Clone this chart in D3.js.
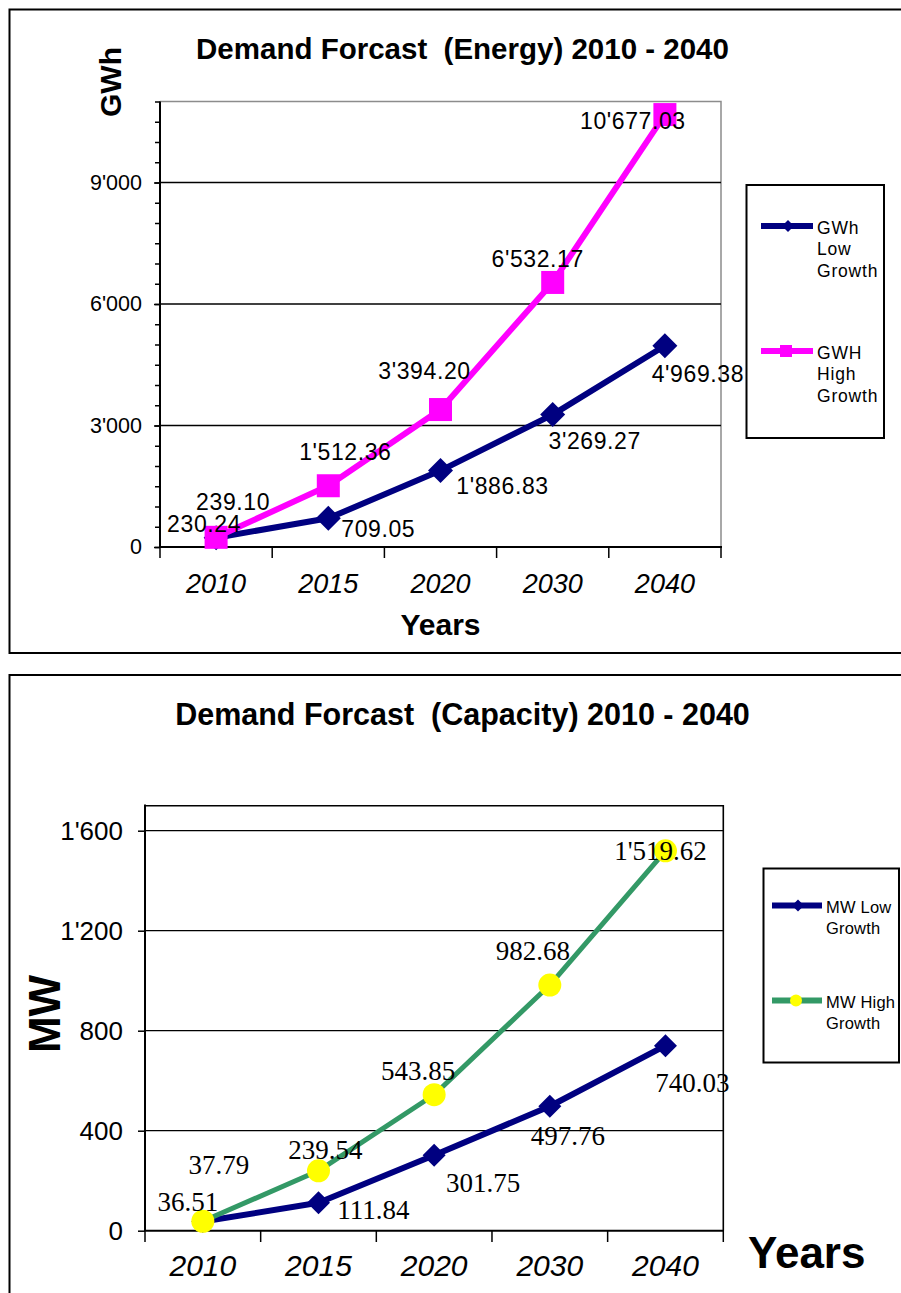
<!DOCTYPE html>
<html>
<head>
<meta charset="utf-8">
<script src="https://cdn.jsdelivr.net/npm/d3@7/dist/d3.min.js"></script>
<style>
  html, body { margin: 0; padding: 0; background: #fff; }
  svg { display: block; }
  text { font-family: Arial, "Liberation Sans", sans-serif; fill: #000; }
</style>
</head>
<body>
<svg id="chart" width="901" height="1293"></svg>
<script>
// ---- data ----
const years = ["2010", "2015", "2020", "2030", "2040"];

const energyLow  = [230.24, 709.05, 1886.83, 3269.27, 4969.38];
const energyHigh = [239.10, 1512.36, 3394.20, 6532.17, 10677.03];
const energyTicks = [0, 3000, 6000, 9000];

const capacityLow  = [36.51, 111.84, 301.75, 497.76, 740.03];
const capacityHigh = [37.79, 239.54, 543.85, 982.68, 1519.62];
const capacityTicks = [0, 400, 800, 1200, 1600];

const energyLegend = [["GWh", "Low", "Growth"], ["GWH", "High", "Growth"]];
const capacityLegend = [["MW Low", "Growth"], ["MW High", "Growth"]];

// ---- label placement (offset of each value label from its point) ----
const energyLowShift  = [[-12, -14], [50, 11], [62, 15], [42, 26], [33, 28]];
const energyHighShift = [[17, -36], [17, -34], [-16, -39], [-15, -24], [-32, 6]];
const capacityLowShift  = [[-15, -20], [55, 7], [49, 28], [18, 30], [27, 37]];
const capacityHighShift = [[16, -56], [7, -21], [-16, -24], [-17, -34], [-5, 0]];

// ---- formatting: apostrophe as thousands separator ----
const loc = d3.formatLocale({decimal: ".", thousands: "'", grouping: [3], currency: ["", ""]});
const fmtVal = loc.format(",.2f");
const fmtTick = loc.format(",.0f");

const NAVY = "#000080", PINK = "#FF00FF", GREEN = "#339966", YELLOW = "#FFFF00";

const svg = d3.select("#chart");

// ---- panel frames ----
svg.append("rect").attr("x", 9.5).attr("y", 9.5).attr("width", 900).attr("height", 643.5)
  .attr("fill", "none").attr("stroke", "#000").attr("stroke-width", 2);
svg.append("rect").attr("x", 9.5).attr("y", 675).attr("width", 900).attr("height", 700)
  .attr("fill", "none").attr("stroke", "#000").attr("stroke-width", 2);

function diamondPath(cx, cy, r) {
  return `M${cx},${cy - r}L${cx + r},${cy}L${cx},${cy + r}L${cx - r},${cy}Z`;
}

function drawValueLabels(g, xs, ys, vals, shift, font) {
  g.selectAll(null).data(vals).join("text")
    .attr("x", (d, i) => xs(years[i]) + xs.bandwidth() / 2 + shift[i][0])
    .attr("y", (d, i) => ys(d) + shift[i][1] + font.baseShift)
    .attr("text-anchor", "middle")
    .style("font-family", font.family)
    .style("font-size", font.size + "px")
    .style("letter-spacing", font.ls + "px")
    .text(d => fmtVal(d));
}

// =========================== Energy chart ===========================
{
  const g = svg.append("g");
  const x = d3.scaleBand().domain(years).range([160, 721]);
  const y = d3.scaleLinear().domain([0, 11000]).range([547, 101.5]);
  const cx = d => x(d) + x.bandwidth() / 2;

  // plot border (top + right, grey)
  g.append("path").attr("d", `M160,101.5H721V547`).attr("fill", "none")
    .attr("stroke", "#8c8c8c").attr("stroke-width", 1.5);

  // gridlines
  g.selectAll(null).data(energyTicks.filter(t => t > 0)).join("line")
    .attr("x1", 160).attr("x2", 721).attr("y1", d => y(d)).attr("y2", d => y(d))
    .attr("stroke", "#000").attr("stroke-width", 1.3);

  // minor ticks
  const minor = g.append("g").attr("transform", "translate(160,0)")
    .call(d3.axisLeft(y).tickValues(d3.range(0, 11001, 500)).tickSize(5).tickFormat(""));
  minor.select(".domain").remove();
  minor.selectAll("line").attr("stroke", "#000").attr("stroke-width", 1.5);

  // major ticks + labels
  const yAx = g.append("g").attr("transform", "translate(160,0)")
    .call(d3.axisLeft(y).tickValues(energyTicks).tickSize(6).tickPadding(12).tickFormat(fmtTick));
  yAx.select(".domain").remove();
  yAx.selectAll("line").attr("stroke", "#000").attr("stroke-width", 1.5);
  yAx.selectAll("text").style("font-size", "21.5px").style("font-family", "Arial, 'Liberation Sans', sans-serif");

  g.append("line").attr("x1", 160).attr("x2", 160).attr("y1", 101.5).attr("y2", 547)
    .attr("stroke", "#000").attr("stroke-width", 2);

  // x axis
  const xAx = g.append("g").attr("transform", "translate(0,547)")
    .call(d3.axisBottom(x).tickSize(0).tickPadding(27));
  xAx.select(".domain").remove();
  xAx.selectAll("text").style("font-size", "27px").style("font-style", "italic")
    .style("font-family", "Arial, 'Liberation Sans', sans-serif");
  const bounds = [x.range()[0]].concat(years.map(d => x(d) + x.bandwidth()));
  g.selectAll(null).data(bounds).join("line")
    .attr("x1", d => d).attr("x2", d => d).attr("y1", 547).attr("y2", 558)
    .attr("stroke", "#000").attr("stroke-width", 1.5);
  g.append("line").attr("x1", 159).attr("x2", 722).attr("y1", 547).attr("y2", 547)
    .attr("stroke", "#000").attr("stroke-width", 2);

  // series lines
  const line = d3.line().x((d, i) => cx(years[i])).y(d => y(d));
  g.append("path").datum(energyLow).attr("d", line).attr("fill", "none")
    .attr("stroke", NAVY).attr("stroke-width", 6).attr("stroke-linejoin", "round");
  g.append("path").datum(energyHigh).attr("d", line).attr("fill", "none")
    .attr("stroke", PINK).attr("stroke-width", 6).attr("stroke-linejoin", "round");

  // markers
  g.selectAll(null).data(energyLow).join("path")
    .attr("d", (d, i) => diamondPath(cx(years[i]), y(d), 12.5)).attr("fill", NAVY);
  g.selectAll(null).data(energyHigh).join("rect")
    .attr("x", (d, i) => cx(years[i]) - 11.5).attr("y", d => y(d) - 11.5)
    .attr("width", 23).attr("height", 23).attr("fill", PINK);

  // value labels
  const sans = {family: "Arial, 'Liberation Sans', sans-serif", size: 23, ls: 0.6, baseShift: 8.2};
  drawValueLabels(g, x, y, energyLow, energyLowShift, sans);
  drawValueLabels(g, x, y, energyHigh, energyHighShift, sans);

  // titles
  g.append("text").attr("x", 462.5).attr("y", 59).attr("text-anchor", "middle")
    .style("font-size", "29.5px").style("font-weight", "bold")
    .text("Demand Forcast  (Energy) 2010 - 2040").attr("xml:space", "preserve");
  g.append("text").attr("x", 440.5).attr("y", 635).attr("text-anchor", "middle")
    .style("font-size", "30px").style("font-weight", "bold").text("Years");
  g.append("text").attr("transform", "translate(121,82) rotate(-90)").attr("text-anchor", "middle")
    .style("font-size", "30px").style("font-weight", "bold").text("GWh");

  // legend
  const lg = g.append("g");
  lg.append("rect").attr("x", 746.5).attr("y", 185).attr("width", 137.5).attr("height", 253)
    .attr("fill", "#fff").attr("stroke", "#000").attr("stroke-width", 2);
  const rowsY = [226, 351];
  const colors = [NAVY, PINK];
  rowsY.forEach((ry, k) => {
    lg.append("line").attr("x1", 761).attr("x2", 813).attr("y1", ry).attr("y2", ry)
      .attr("stroke", colors[k]).attr("stroke-width", 6);
    if (k === 0) lg.append("path").attr("d", diamondPath(788, ry, 6)).attr("fill", NAVY);
    else lg.append("rect").attr("x", 780).attr("y", ry - 6).attr("width", 12).attr("height", 12).attr("fill", PINK);
    energyLegend[k].forEach((t, j) => {
      lg.append("text").attr("x", 817).attr("y", ry + 7.5 + j * 21.7)
        .style("font-size", "17.5px").style("letter-spacing", "0.8px").text(t);
    });
  });
}

// =========================== Capacity chart ===========================
{
  const g = svg.append("g");
  const x = d3.scaleBand().domain(years).range([145, 723.3]);
  const y = d3.scaleLinear().domain([0, 1700]).range([1230.7, 805.7]);
  const cx = d => x(d) + x.bandwidth() / 2;

  // plot border (top + right)
  g.append("path").attr("d", `M145,805.7H723.3V1230.7`).attr("fill", "none")
    .attr("stroke", "#000").attr("stroke-width", 1.6);

  // gridlines
  g.selectAll(null).data(capacityTicks.filter(t => t > 0)).join("line")
    .attr("x1", 145).attr("x2", 723.3).attr("y1", d => y(d)).attr("y2", d => y(d))
    .attr("stroke", "#000").attr("stroke-width", 1.3);

  const yAx = g.append("g").attr("transform", "translate(145,0)")
    .call(d3.axisLeft(y).tickValues(capacityTicks).tickSize(7).tickPadding(15).tickFormat(fmtTick));
  yAx.select(".domain").remove();
  yAx.selectAll("line").attr("stroke", "#000").attr("stroke-width", 1.5);
  yAx.selectAll("text").style("font-size", "26px").style("font-family", "Arial, 'Liberation Sans', sans-serif");

  g.append("line").attr("x1", 145).attr("x2", 145).attr("y1", 804.5).attr("y2", 1231)
    .attr("stroke", "#000").attr("stroke-width", 2);

  const xAx = g.append("g").attr("transform", "translate(0,1230.7)")
    .call(d3.axisBottom(x).tickSize(0).tickPadding(24));
  xAx.select(".domain").remove();
  xAx.selectAll("text").style("font-size", "30px").style("font-style", "italic")
    .style("font-family", "Arial, 'Liberation Sans', sans-serif");
  const bounds = [x.range()[0]].concat(years.map(d => x(d) + x.bandwidth()));
  g.selectAll(null).data(bounds).join("line")
    .attr("x1", d => d).attr("x2", d => d).attr("y1", 1230.7).attr("y2", 1242)
    .attr("stroke", "#000").attr("stroke-width", 1.5);
  g.append("line").attr("x1", 144).attr("x2", 724).attr("y1", 1230.7).attr("y2", 1230.7)
    .attr("stroke", "#000").attr("stroke-width", 2);

  const line = d3.line().x((d, i) => cx(years[i])).y(d => y(d));
  g.append("path").datum(capacityLow).attr("d", line).attr("fill", "none")
    .attr("stroke", NAVY).attr("stroke-width", 6).attr("stroke-linejoin", "round");
  g.append("path").datum(capacityHigh).attr("d", line).attr("fill", "none")
    .attr("stroke", GREEN).attr("stroke-width", 5).attr("stroke-linejoin", "round");

  g.selectAll(null).data(capacityLow).join("path")
    .attr("d", (d, i) => diamondPath(cx(years[i]), y(d), 11.5)).attr("fill", NAVY);
  g.selectAll(null).data(capacityHigh).join("circle")
    .attr("cx", (d, i) => cx(years[i])).attr("cy", d => y(d)).attr("r", 11.5).attr("fill", YELLOW);

  const serif = {family: "'Liberation Serif', 'Times New Roman', serif", size: 27, ls: 0, baseShift: 9.2};
  drawValueLabels(g, x, y, capacityLow, capacityLowShift, serif);
  drawValueLabels(g, x, y, capacityHigh, capacityHighShift, serif);

  g.append("text").attr("x", 462.5).attr("y", 725).attr("text-anchor", "middle")
    .style("font-size", "30.5px").style("font-weight", "bold")
    .text("Demand Forcast  (Capacity) 2010 - 2040").attr("xml:space", "preserve");
  g.append("text").attr("x", 748).attr("y", 1268)
    .style("font-size", "44px").style("font-weight", "bold").text("Years");
  g.append("text").attr("transform", "translate(60,1014) rotate(-90)").attr("text-anchor", "middle")
    .style("font-size", "44px").style("font-weight", "bold").text("MW");

  const lg = g.append("g");
  lg.append("rect").attr("x", 763.5).attr("y", 868.5).attr("width", 135.5).attr("height", 194)
    .attr("fill", "#fff").attr("stroke", "#000").attr("stroke-width", 2);
  const rowsY = [905.5, 1000.5];
  const colors = [NAVY, GREEN];
  rowsY.forEach((ry, k) => {
    lg.append("line").attr("x1", 772).attr("x2", 822).attr("y1", ry).attr("y2", ry)
      .attr("stroke", colors[k]).attr("stroke-width", 6);
    if (k === 0) lg.append("path").attr("d", diamondPath(798, ry, 6)).attr("fill", NAVY);
    else lg.append("circle").attr("cx", 796).attr("cy", ry).attr("r", 6).attr("fill", YELLOW);
    capacityLegend[k].forEach((t, j) => {
      lg.append("text").attr("x", 826).attr("y", ry + 7.5 + j * 21)
        .style("font-size", "16.5px").style("letter-spacing", "0.2px").text(t);
    });
  });
}
</script>
</body>
</html>
